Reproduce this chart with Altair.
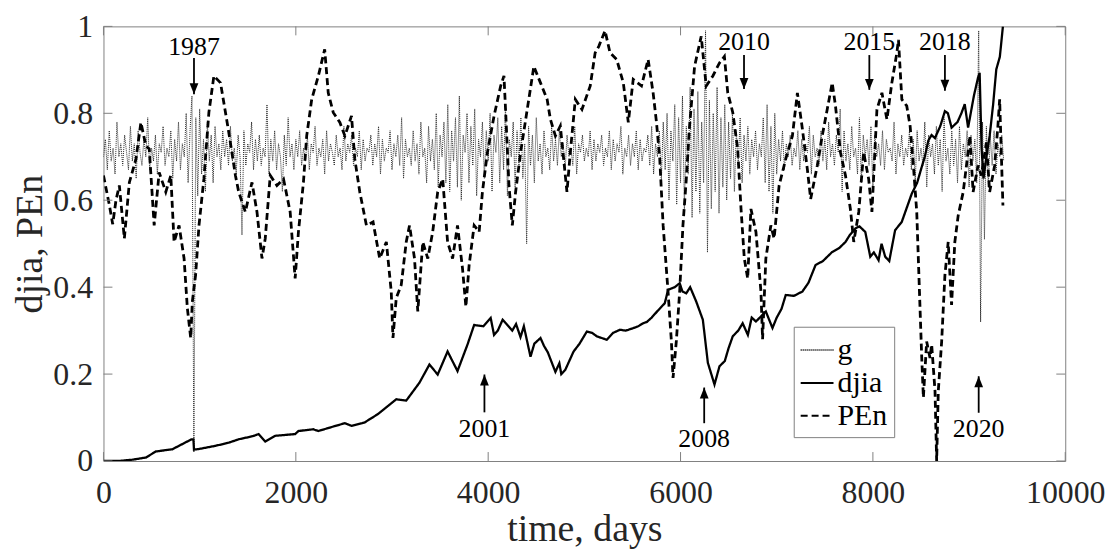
import altair as alt
import pandas as pd

# ---------------- data ----------------
G_STEP = 20  # days between samples of g
g_values = [
    0.70, 0.74, 0.67, 0.76, 0.69, 0.72, 0.66, 0.78, 0.70, 0.73, 0.68, 0.75, 0.71, 0.67, 0.77, 0.69, 0.73, 0.65, 0.76, 0.71,
    0.68, 0.74, 0.70, 0.79, 0.67, 0.72, 0.69, 0.75, 0.66, 0.73, 0.71, 0.77, 0.68, 0.72, 0.70, 0.76, 0.65, 0.74, 0.69, 0.78,
    0.67, 0.73, 0.70, 0.80, 0.64, 0.76, 0.84, 0.02, 0.79, 0.61, 0.81, 0.66, 0.74, 0.62, 0.78, 0.69, 0.75, 0.64, 0.77, 0.70,
    0.73, 0.67, 0.76, 0.70, 0.74, 0.68, 0.77, 0.69, 0.72, 0.66, 0.75, 0.70, 0.52, 0.76, 0.68, 0.73, 0.71, 0.78, 0.67, 0.74,
    0.69, 0.75, 0.68, 0.72, 0.70, 0.82, 0.66, 0.74, 0.69, 0.76, 0.67, 0.73, 0.70, 0.62, 0.75, 0.68, 0.79, 0.70, 0.73, 0.67,
    0.74, 0.70, 0.76, 0.68, 0.72, 0.69, 0.75, 0.67, 0.73, 0.71, 0.77, 0.68, 0.72, 0.70, 0.74, 0.66, 0.76, 0.69, 0.73, 0.71,
    0.68, 0.75, 0.70, 0.72, 0.67, 0.77, 0.69, 0.73, 0.71, 0.75, 0.68, 0.72, 0.70, 0.76, 0.67, 0.74, 0.69, 0.72, 0.71, 0.75,
    0.68, 0.73, 0.70, 0.77, 0.66, 0.74, 0.69, 0.72, 0.71, 0.76, 0.67, 0.73, 0.70, 0.75, 0.68, 0.79, 0.65, 0.74, 0.70, 0.72,
    0.68, 0.76, 0.69, 0.73, 0.66, 0.78, 0.70, 0.72, 0.64, 0.77, 0.69, 0.74, 0.67, 0.80, 0.63, 0.75, 0.70, 0.78, 0.64, 0.82,
    0.62, 0.76, 0.69, 0.79, 0.63, 0.84, 0.60, 0.75, 0.71, 0.80, 0.64, 0.77, 0.68, 0.81, 0.61, 0.74, 0.70, 0.78, 0.65, 0.76,
    0.69, 0.80, 0.62, 0.75, 0.71, 0.79, 0.64, 0.77, 0.67, 0.82, 0.61, 0.74, 0.70, 0.78, 0.63, 0.76, 0.68, 0.79, 0.65, 0.73,
    0.50, 0.77, 0.68, 0.75, 0.64, 0.79, 0.69, 0.73, 0.66, 0.76, 0.70, 0.72, 0.67, 0.77, 0.69, 0.74, 0.68, 0.76, 0.70, 0.73,
    0.67, 0.75, 0.70, 0.72, 0.68, 0.77, 0.66, 0.73, 0.71, 0.75, 0.69, 0.72, 0.70, 0.76, 0.67, 0.74, 0.69, 0.73, 0.71, 0.75,
    0.68, 0.72, 0.70, 0.76, 0.67, 0.74, 0.69, 0.73, 0.71, 0.77, 0.66, 0.72, 0.70, 0.75, 0.68, 0.73, 0.70, 0.76, 0.67, 0.74,
    0.69, 0.72, 0.71, 0.75, 0.68, 0.77, 0.66, 0.73, 0.70, 0.76, 0.64, 0.78, 0.67, 0.80, 0.60, 0.76, 0.69, 0.82, 0.59, 0.79,
    0.64, 0.84, 0.58, 0.77, 0.66, 0.86, 0.56, 0.81, 0.62, 0.85, 0.57, 0.78, 0.64, 0.99, 0.48, 0.83, 0.58, 0.80, 0.62, 0.86,
    0.57, 0.79, 0.63, 0.82, 0.60, 0.78, 0.65, 0.80, 0.62, 0.76, 0.68, 0.79, 0.64, 0.75, 0.69, 0.77, 0.66, 0.74, 0.70, 0.76,
    0.67, 0.73, 0.70, 0.79, 0.64, 0.82, 0.62, 0.77, 0.57, 0.80, 0.66, 0.74, 0.69, 0.76, 0.67, 0.73, 0.70, 0.75, 0.68, 0.72,
    0.70, 0.76, 0.67, 0.74, 0.69, 0.73, 0.71, 0.77, 0.66, 0.75, 0.70, 0.72, 0.68, 0.76, 0.69, 0.74, 0.67, 0.78, 0.70, 0.73,
    0.68, 0.75, 0.71, 0.81, 0.62, 0.76, 0.69, 0.73, 0.67, 0.77, 0.70, 0.72, 0.66, 0.79, 0.64, 0.75, 0.70, 0.74, 0.68, 0.77,
    0.62, 0.75, 0.70, 0.73, 0.68, 0.76, 0.67, 0.74, 0.71, 0.72, 0.69, 0.78, 0.66, 0.73, 0.70, 0.75, 0.68, 0.72, 0.70, 0.76,
    0.67, 0.74, 0.64, 0.76, 0.69, 0.72, 0.68, 0.78, 0.63, 0.75, 0.70, 0.73, 0.66, 0.77, 0.68, 0.74, 0.62, 0.79, 0.69, 0.72,
    0.66, 0.76, 0.68, 0.74, 0.64, 0.77, 0.67, 0.73, 0.70, 0.76, 0.63, 0.75, 0.69, 0.74, 0.64, 0.99, 0.32, 0.78, 0.51, 0.77,
    0.63, 0.75, 0.68, 0.76, 0.66, 0.73, 0.70, 0.75, 0.69,
]

djia_days = [0, 150, 300, 441, 545, 716, 855, 917, 935, 941, 1000, 1165, 1300, 1406, 1550, 1613, 1682, 1786,
             1993, 2027, 2182, 2234, 2400, 2510, 2579, 2717, 2854, 3044, 3148, 3285, 3389, 3475, 3578, 3681,
             3785, 3854, 3950, 4026, 4061, 4100, 4150, 4199, 4250, 4290, 4336, 4371, 4440, 4480, 4544, 4580,
             4620, 4699, 4740, 4760, 4802, 4888, 4950, 5026, 5080, 5129, 5180, 5233, 5300, 5370, 5430, 5500,
             5560, 5612, 5650, 5700, 5760, 5836, 5871, 5940, 5991, 6020, 6060, 6100, 6163, 6232, 6284, 6353,
             6405, 6460, 6500, 6543, 6600, 6646, 6700, 6740, 6784, 6887, 6956, 7000, 7050, 7094, 7180, 7267,
             7330, 7404, 7480, 7577, 7650, 7715, 7760, 7818, 7860, 7921, 7973, 8010, 8059, 8090, 8128, 8170,
             8231, 8300, 8404, 8460, 8507, 8540, 8576, 8610, 8645, 8700, 8749, 8780, 8818, 8880, 8920, 8955,
             8990, 9050, 9093, 9110, 9130, 9150, 9180, 9214, 9250, 9283, 9320, 9352]
djia_values = [0.000, 0.000, 0.003, 0.008, 0.022, 0.027, 0.043, 0.050, 0.050, 0.026, 0.028, 0.035, 0.042, 0.050, 0.057, 0.062, 0.045, 0.058,
               0.062, 0.069, 0.073, 0.069, 0.080, 0.087, 0.081, 0.089, 0.108, 0.142, 0.139, 0.180, 0.222, 0.199, 0.252, 0.207,
               0.268, 0.313, 0.310, 0.329, 0.290, 0.300, 0.325, 0.313, 0.300, 0.315, 0.285, 0.310, 0.240, 0.270, 0.283, 0.265,
               0.250, 0.205, 0.225, 0.200, 0.210, 0.252, 0.270, 0.298, 0.295, 0.287, 0.283, 0.279, 0.295, 0.302, 0.300, 0.305,
               0.310, 0.317, 0.320, 0.330, 0.345, 0.363, 0.394, 0.400, 0.409, 0.390, 0.386, 0.400, 0.367, 0.325, 0.226, 0.176,
               0.218, 0.230, 0.260, 0.287, 0.300, 0.317, 0.290, 0.330, 0.321, 0.344, 0.306, 0.330, 0.350, 0.382, 0.380, 0.390,
               0.410, 0.451, 0.460, 0.481, 0.490, 0.504, 0.520, 0.535, 0.540, 0.527, 0.470, 0.480, 0.462, 0.500, 0.470, 0.460,
               0.531, 0.550, 0.615, 0.640, 0.676, 0.700, 0.737, 0.750, 0.743, 0.770, 0.805, 0.800, 0.767, 0.780, 0.800, 0.821,
               0.767, 0.840, 0.882, 0.893, 0.720, 0.650, 0.700, 0.748, 0.820, 0.901, 0.930, 1.000]

pen_days = [0, 62, 96, 130, 165, 217, 269, 338, 389, 441, 476, 527, 579, 648, 700, 734, 786, 838, 872, 907, 924, 958,
            993, 1044, 1096, 1148, 1217, 1251, 1303, 1372, 1406, 1475, 1544, 1596, 1648, 1682, 1734, 1803, 1872, 1941,
            1993, 2027, 2079, 2113, 2165, 2234, 2300, 2337, 2389, 2458, 2510, 2579, 2613, 2665, 2734, 2803, 2872, 2941,
            2992, 3010, 3044, 3096, 3148, 3182, 3234, 3268, 3320, 3372, 3423, 3475, 3527, 3578, 3630, 3681, 3733, 3768,
            3802, 3854, 3906, 3940, 3992, 4061, 4130, 4164, 4182, 4216, 4251, 4285, 4337, 4406, 4475, 4544, 4613, 4647,
            4699, 4750, 4819, 4854, 4906, 4975, 5061, 5112, 5150, 5215, 5267, 5336, 5405, 5457, 5508, 5594, 5663, 5715,
            5750, 5784, 5819, 5870, 5905, 5922, 5956, 5991, 6025, 6060, 6094, 6146, 6215, 6267, 6336, 6405, 6456, 6491,
            6543, 6594, 6629, 6663, 6698, 6732, 6784, 6836, 6853, 6887, 6939, 6973, 7025, 7094, 7163, 7215, 7267, 7318,
            7353, 7422, 7473, 7525, 7577, 7611, 7663, 7715, 7766, 7801, 7853, 7904, 7956, 7990, 8042, 8094, 8146, 8197,
            8249, 8266, 8301, 8352, 8387, 8421, 8456, 8490, 8508, 8525, 8559, 8594, 8611, 8646, 8663, 8680, 8715, 8749,
            8783, 8818, 8852, 8887, 8939, 8973, 9008, 9042, 9094, 9128, 9180, 9214, 9266, 9300, 9318, 9352]
pen_values = [0.657, 0.588, 0.545, 0.600, 0.634, 0.512, 0.641, 0.695, 0.779, 0.725, 0.718, 0.542, 0.664, 0.619, 0.657, 0.504, 0.542, 0.466, 0.352, 0.283, 0.367, 0.428,
              0.542, 0.649, 0.802, 0.886, 0.870, 0.825, 0.756, 0.657, 0.619, 0.573, 0.641, 0.573, 0.466, 0.512, 0.657, 0.634, 0.649, 0.573,
              0.420, 0.527, 0.641, 0.748, 0.832, 0.886, 0.947, 0.847, 0.802, 0.779, 0.748, 0.794, 0.695, 0.619, 0.542, 0.550, 0.466, 0.504,
              0.390, 0.283, 0.375, 0.405, 0.504, 0.542, 0.466, 0.344, 0.504, 0.466, 0.527, 0.619, 0.649, 0.504, 0.466, 0.542, 0.443, 0.355,
              0.451, 0.542, 0.527, 0.619, 0.710, 0.794, 0.863, 0.886, 0.802, 0.634, 0.542, 0.619, 0.710, 0.809, 0.908, 0.870, 0.832, 0.786,
              0.748, 0.771, 0.619, 0.710, 0.832, 0.809, 0.863, 0.939, 0.954, 0.990, 0.939, 0.924, 0.870, 0.779, 0.878, 0.863, 0.924, 0.847,
              0.779, 0.695, 0.542, 0.390, 0.275, 0.191, 0.275, 0.390, 0.542, 0.649, 0.771, 0.908, 0.977, 0.863, 0.886, 0.916, 0.931, 0.847,
              0.802, 0.718, 0.580, 0.466, 0.420, 0.580, 0.527, 0.390, 0.280, 0.466, 0.542, 0.512, 0.634, 0.695, 0.748, 0.847, 0.764, 0.672,
              0.603, 0.680, 0.748, 0.809, 0.870, 0.817, 0.710, 0.657, 0.580, 0.504, 0.573, 0.710, 0.649, 0.573, 0.809, 0.847, 0.786, 0.870,
              0.939, 0.969, 0.832, 0.817, 0.771, 0.680, 0.573, 0.352, 0.237, 0.146, 0.275, 0.237, 0.268, 0.161, 0.000, 0.161, 0.275, 0.428,
              0.504, 0.359, 0.504, 0.565, 0.619, 0.680, 0.748, 0.619, 0.680, 0.657, 0.733, 0.619, 0.680, 0.771, 0.832, 0.588]

series_names = ["g", "djia", "PEn"]

x_ticks = [0, 2000, 4000, 6000, 8000, 10000]
y_ticks = [0, 0.2, 0.4, 0.6, 0.8, 1]

ann_years = ["1987", "2001", "2008", "2010", "2015", "2018", "2020"]
ann_days = [941, 3961, 6246, 6660, 7963, 8749, 9100]
ann_text_y = [0.933, 0.055, 0.032, 0.945, 0.945, 0.945, 0.055]
ann_tail_y = [0.927, 0.112, 0.087, 0.934, 0.934, 0.934, 0.111]
ann_tip_y = [0.844, 0.199, 0.169, 0.856, 0.854, 0.852, 0.195]
ann_dir = ["down", "up", "up", "down", "down", "down", "up"]

# ---------------- tables ----------------
g_df = pd.DataFrame({"day": [i * G_STEP for i in range(len(g_values))], "value": g_values, "series": "g"})
djia_df = pd.DataFrame({"day": djia_days, "value": djia_values, "series": "djia"})
pen_df = pd.DataFrame({"day": pen_days, "value": pen_values, "series": "PEn"})
xt_df = pd.DataFrame({"day": x_ticks})
yt_df = pd.DataFrame({"value": y_ticks})
ann_df = pd.DataFrame({"year": ann_years, "day": ann_days, "ty": ann_text_y,
                       "tail": ann_tail_y, "tip": ann_tip_y, "dir": ann_dir})

W, H = 967, 437
FONT = "Liberation Serif"
TXT = "#262626"
FRAME = "#808080"

xscale = alt.Scale(domain=[0, 10000], nice=False, zero=False)
yscale = alt.Scale(domain=[0, 1], nice=False, zero=False)

xaxis = alt.Axis(values=x_ticks, format="d", ticks=False, domain=False, grid=False,
                 labelFont=FONT, labelFontSize=32, labelColor=TXT, labelPadding=17,
                 labelFlush=False, labelOverlap=False,
                 title="time, days", titleFont=FONT, titleFontSize=38, titleFontWeight="normal",
                 titleColor=TXT, titleBaseline="alphabetic", titleX=W / 2, titleY=80, titleAlign="center")
yaxis = alt.Axis(values=y_ticks, format="~g", ticks=False, domain=False, grid=False,
                 labelFont=FONT, labelFontSize=32, labelColor=TXT, labelPadding=11,
                 labelFlush=False, labelOverlap=False,
                 title="djia, PEn", titleFont=FONT, titleFontSize=38, titleFontWeight="normal",
                 titleColor=TXT, titleBaseline="alphabetic", titleX=-62, titleY=H / 2,
                 titleAlign="center", titleAngle=270)

X = lambda f: alt.X(f, scale=xscale, axis=xaxis)
Y = lambda f: alt.Y(f, scale=yscale, axis=yaxis)

legend = alt.Legend(title=None, orient="none", legendX=694, legendY=302, direction="vertical",
                    symbolType="stroke", symbolSize=1089, symbolStrokeWidth=2,
                    labelFont=FONT, labelFontSize=30, labelColor="black", labelOffset=3,
                    strokeColor=FRAME, fillColor="white", padding=6, rowPadding=0, labelLimit=0)

color_enc = alt.Color("series:N", scale=alt.Scale(domain=series_names, range=["#2a2a2a", "black", "black"]),
                      legend=legend)
dash_enc = alt.StrokeDash("series:N", scale=alt.Scale(domain=series_names, range=[[1, 1], [1, 0], [7, 4]]),
                          legend=legend)

def series_layer(df, width):
    return alt.Chart(df).mark_line(strokeWidth=width, clip=True).encode(
        x=X("day:Q"), y=Y("value:Q"), color=color_enc, strokeDash=dash_enc,
    )

g_layer = series_layer(g_df, 1.0)
djia_layer = series_layer(djia_df, 2.3)
pen_layer = series_layer(pen_df, 2.8)

TICK = 9
tick_style = dict(color=FRAME, strokeWidth=1)
xt_bottom = alt.Chart(xt_df).mark_rule(**tick_style).encode(x=X("day:Q"), y=alt.value(H), y2=alt.value(H - TICK))
xt_top = alt.Chart(xt_df).mark_rule(**tick_style).encode(x=X("day:Q"), y=alt.value(0), y2=alt.value(TICK))
yt_left = alt.Chart(yt_df).mark_rule(**tick_style).encode(y=Y("value:Q"), x=alt.value(0), x2=alt.value(TICK))
yt_right = alt.Chart(yt_df).mark_rule(**tick_style).encode(y=Y("value:Q"), x=alt.value(W), x2=alt.value(W - TICK))

shafts = alt.Chart(ann_df).mark_rule(color="black", strokeWidth=1.8).encode(
    x=X("day:Q"), y=Y("tail:Q"), y2="tip:Q",
)
DOWN_HEAD = "M-0.4,-1L0.4,-1L0,0Z"
UP_HEAD = "M-0.4,1L0.4,1L0,0Z"
heads = alt.Chart(ann_df).mark_point(filled=True, color="black", opacity=1, strokeWidth=0).encode(
    x=X("day:Q"), y=Y("tip:Q"),
    shape=alt.Shape("dir:N", scale=alt.Scale(domain=["down", "up"], range=[DOWN_HEAD, UP_HEAD]), legend=None),
    size=alt.value(484),
)
labels = alt.Chart(ann_df).mark_text(font=FONT, fontSize=26, color="black", align="center",
                                     baseline="alphabetic").encode(
    x=X("day:Q"), y=Y("ty:Q"), text="year:N",
)

chart = alt.layer(
    g_layer, djia_layer, pen_layer,
    xt_bottom, xt_top, yt_left, yt_right,
    shafts, heads, labels,
).properties(
    width=W, height=H,
    autosize=alt.AutoSizeParams(type="none"),
    padding={"left": 96, "top": 17, "right": 45, "bottom": 89},
    background="white",
).configure_view(
    stroke=FRAME, strokeWidth=1
)

chart.save("out.html", embed_options={"renderer": "svg", "actions": False})
